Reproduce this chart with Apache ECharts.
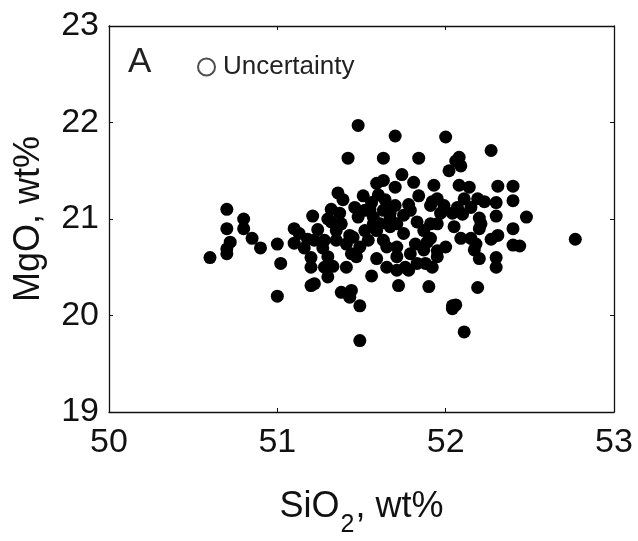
<!DOCTYPE html>
<html>
<head>
<meta charset="utf-8">
<script src="https://cdn.jsdelivr.net/npm/echarts@6/dist/echarts.min.js"></script>
<style>
html,body{margin:0;padding:0;background:#fff;}
#chart{width:638px;height:541px;}
</style>
</head>
<body>
<div id="chart"></div>
<script>
// SiO2 (wt%) and MgO (wt%) of each analysed point
const sio2 = [
51.48,51.70,52.00,51.42,51.63,51.84,52.27,52.08,52.06,52.09,
52.02,51.74,51.81,51.63,51.59,51.70,51.93,52.08,52.14,52.31,
52.40,51.36,51.51,51.84,51.95,52.11,52.19,52.23,52.30,52.40,
51.39,51.64,51.92,51.78,51.91,51.99,52.07,51.70,51.32,51.46,
51.55,52.15,52.30,52.48,51.21,51.30,51.48,51.57,51.67,51.75,
51.83,52.04,52.10,52.20,51.95,51.61,51.38,52.05,52.20,52.40,
50.70,50.80,50.70,50.80,50.85,50.90,50.72,50.70,50.70,50.60,
51.00,51.02,51.00,51.10,51.13,51.10,51.18,51.24,51.22,51.16,
51.27,51.20,51.20,51.30,51.28,51.33,51.30,51.20,51.22,51.38,
51.44,51.43,51.49,51.49,51.56,51.72,51.90,52.19,52.04,52.06,
52.04,52.11,52.77,51.35,51.43,51.41,51.44,51.41,51.47,51.49,
51.54,51.59,51.63,51.59,51.65,51.71,51.71,51.65,51.71,51.76,
51.78,51.83,51.88,51.92,51.82,51.89,51.91,51.95,52.00,51.95,
51.87,51.79,52.09,52.15,52.17,52.20,52.27,52.31,52.30,52.30,
52.40,52.44,51.75,51.71,51.87,51.52,51.56,51.60,51.63,51.67,
51.79,51.97,51.32,51.37,51.52,51.57,51.28,51.35,51.45,51.67,
51.65,52.21,52.18,51.91
];
const mgo = [
21.97,21.86,21.85,21.63,21.63,21.63,21.71,21.64,21.60,21.55,
21.50,21.46,21.38,21.40,21.37,21.33,21.35,21.35,21.33,21.34,
21.34,21.27,21.24,21.24,21.21,21.21,21.21,21.18,21.17,21.19,
21.20,21.20,21.18,21.15,21.14,21.14,21.12,21.14,21.10,21.12,
21.10,21.12,21.03,21.02,21.03,21.00,21.02,21.02,21.00,21.04,
20.97,21.06,21.05,21.01,20.95,20.95,20.95,20.92,20.90,20.90,
21.10,21.00,20.90,20.90,20.80,20.70,20.76,20.69,20.64,20.60,
20.74,20.54,20.20,20.90,20.85,20.75,20.79,20.89,20.78,20.70,
20.70,20.60,20.50,20.61,20.50,20.51,20.40,20.31,20.33,20.24,
20.26,20.19,20.10,19.74,20.41,20.31,20.30,20.29,20.10,20.11,
20.07,19.83,20.79,20.88,20.83,20.74,20.64,20.50,20.61,20.71,
20.78,20.88,20.78,20.59,20.71,20.71,20.61,20.50,20.47,20.50,
20.47,20.54,20.54,20.50,20.74,20.76,20.80,20.67,20.71,20.61,
20.68,20.64,20.80,20.80,20.68,20.59,20.79,20.83,20.60,20.50,
20.73,20.72,20.85,20.95,20.88,21.09,21.17,21.25,21.09,21.06,
21.09,21.06,20.97,21.06,20.88,20.95,20.78,20.78,20.81,20.92,
21.12,20.95,20.74,20.95
];
const xTicks = [50, 51, 52, 53];
const yTicks = [19, 20, 21, 22, 23];
const panelLabel = 'A';
const legendLabel = 'Uncertainty';

const points = sio2.map((v, i) => [v, mgo[i]]);
const FONT = '"Liberation Sans", Arial, Helvetica, sans-serif';
const ink = '#111';

const chart = echarts.init(document.getElementById('chart'), null, {renderer: 'canvas'});

const frameAxis = {
  axisLine: {show: true, onZero: false, lineStyle: {color: ink, width: 1.3}},
  axisTick: {show: true, inside: true, length: 4, lineStyle: {color: ink, width: 1}},
  splitLine: {show: false}
};

chart.setOption({
  animation: false,
  backgroundColor: '#fff',
  textStyle: {fontFamily: FONT},
  grid: {left: 109, top: 26, right: 24, bottom: 129, containLabel: false, outerBoundsMode: 'none'},
  title: {
    text: panelLabel,
    left: 123, top: 40,
    textStyle: {fontFamily: FONT, fontSize: 35, fontWeight: 'normal', color: '#222'}
  },
  legend: {
    show: true,
    left: 197, top: 54,
    padding: 0,
    orient: 'horizontal',
    itemWidth: 17, itemHeight: 17,
    selectedMode: false,
    data: [{name: legendLabel, icon: 'circle',
            itemStyle: {color: '#fff', borderColor: '#222', borderWidth: 2}}],
    textStyle: {fontFamily: FONT, fontSize: 26, color: '#222', padding: [0, 0, 0, 3]}
  },
  xAxis: [
    Object.assign({
      type: 'value', position: 'bottom',
      min: xTicks[0], max: xTicks[xTicks.length - 1], interval: 1,
      name: '{a|SiO}{b|2}{a|, wt%}',
      nameLocation: 'middle', nameGap: 77,
      nameTextStyle: {
        rich: {
          a: {fontFamily: FONT, fontSize: 36, color: ink, lineHeight: 40, verticalAlign: 'top'},
          b: {fontFamily: FONT, fontSize: 25, color: ink, lineHeight: 25, padding: [24, 1, 0, 1], verticalAlign: 'top'}
        }
      },
      axisLabel: {show: true, margin: 14, fontFamily: FONT, fontSize: 34, color: ink,
                  formatter: v => xTicks.includes(v) ? String(v) : ''}
    }, frameAxis),
    Object.assign({
      type: 'value', position: 'top',
      min: xTicks[0], max: xTicks[xTicks.length - 1], interval: 1,
      axisLabel: {show: false}
    }, frameAxis)
  ],
  yAxis: [
    Object.assign({
      type: 'value', position: 'left',
      min: yTicks[0], max: yTicks[yTicks.length - 1], interval: 1,
      name: 'MgO, wt%',
      nameLocation: 'middle', nameGap: 62,
      nameTextStyle: {fontFamily: FONT, fontSize: 36, color: ink},
      axisLabel: {show: true, margin: 10, fontFamily: FONT, fontSize: 34, color: ink,
                  formatter: v => yTicks.includes(v) ? String(v) : ''}
    }, frameAxis),
    Object.assign({
      type: 'value', position: 'right',
      min: yTicks[0], max: yTicks[yTicks.length - 1], interval: 1,
      axisLabel: {show: false}
    }, frameAxis)
  ],
  series: [
    {
      name: 'Samples',
      type: 'scatter',
      xAxisIndex: 0, yAxisIndex: 0,
      symbol: 'circle',
      symbolSize: 13,
      itemStyle: {color: '#000', opacity: 1},
      data: points
    },
    {
      name: legendLabel,
      type: 'scatter',
      xAxisIndex: 0, yAxisIndex: 0,
      symbol: 'emptyCircle',
      itemStyle: {color: '#fff', borderColor: '#222', borderWidth: 2},
      data: []
    }
  ]
});
</script>
</body>
</html>
